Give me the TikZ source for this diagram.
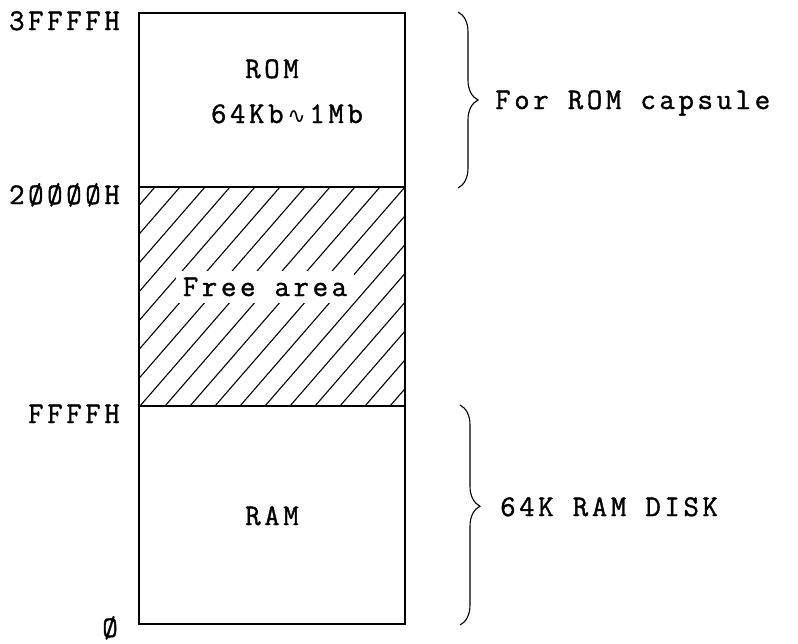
\documentclass[tikz,border=0pt]{standalone}
\usepackage{fontspec}
\setmonofont{Latin Modern Mono}[LetterSpace=12, FakeBold=1.2]
\newfontfamily\symfont{DejaVu Sans}
\usetikzlibrary{decorations.pathreplacing}

\begin{document}
\begin{tikzpicture}[x=1pt, y=-1pt, font=\ttfamily\fontsize{30}{34}\selectfont,
    region/.style={draw, line width=1.4pt},
    addr/.style={anchor=base east, inner sep=0pt},
    inlabel/.style={anchor=base, inner sep=0pt},
    sidelabel/.style={anchor=base west, inner sep=0pt},
    curly/.style={decorate, decoration={brace, amplitude=20pt, #1}, line width=1.1pt}]
    \useasboundingbox (0,0) rectangle (798,643);

    % Free area hatching
    \begin{scope}
        \clip (139,187) rectangle (405,406);
        \foreach \x in {-60,-35,...,410}
            \draw[line width=1.1pt] (\x,406) -- ++(190,-219);
    \end{scope}

    % Memory regions
    \draw[region] (139,13) rectangle (405,187);
    \draw[region] (139,187) rectangle (405,406);
    \draw[region] (139,406) rectangle (405,624);

    % Region labels
    \node[inlabel] (rom) at (272,78) {ROM};
    \node[inlabel] (romsize) at (287,123) {64Kb{\symfont\fontsize{22}{26}\selectfont\,∿\,}1Mb};
    \node[inlabel, fill=white, inner sep=7pt] (free) at (265,296) {Free area};
    \node[inlabel] (ram) at (272,525) {RAM};

    % Addresses
    \node[addr] (a3) at (120,30) {3FFFFH};
    \node[addr] (a2) at (120,204) {2ØØØØH};
    \node[addr] (a1) at (120,423) {FFFFH};
    \node[addr] (a0) at (118,637) {Ø};

    % Braces
    \coordinate (romtop) at (458,12);
    \coordinate (rombot) at (458,188);
    \coordinate (ramtop) at (460,405);
    \coordinate (rambot) at (460,625);
    \draw[curly={aspect=0.5}] (romtop) -- (rombot);
    \draw[curly={aspect=0.46}] (ramtop) -- (rambot);
    \node[sidelabel] (romcap) at (495,109) {For ROM capsule};
    \node[sidelabel] (ramdisk) at (500,516) {64K RAM DISK};
\end{tikzpicture}
\end{document}
